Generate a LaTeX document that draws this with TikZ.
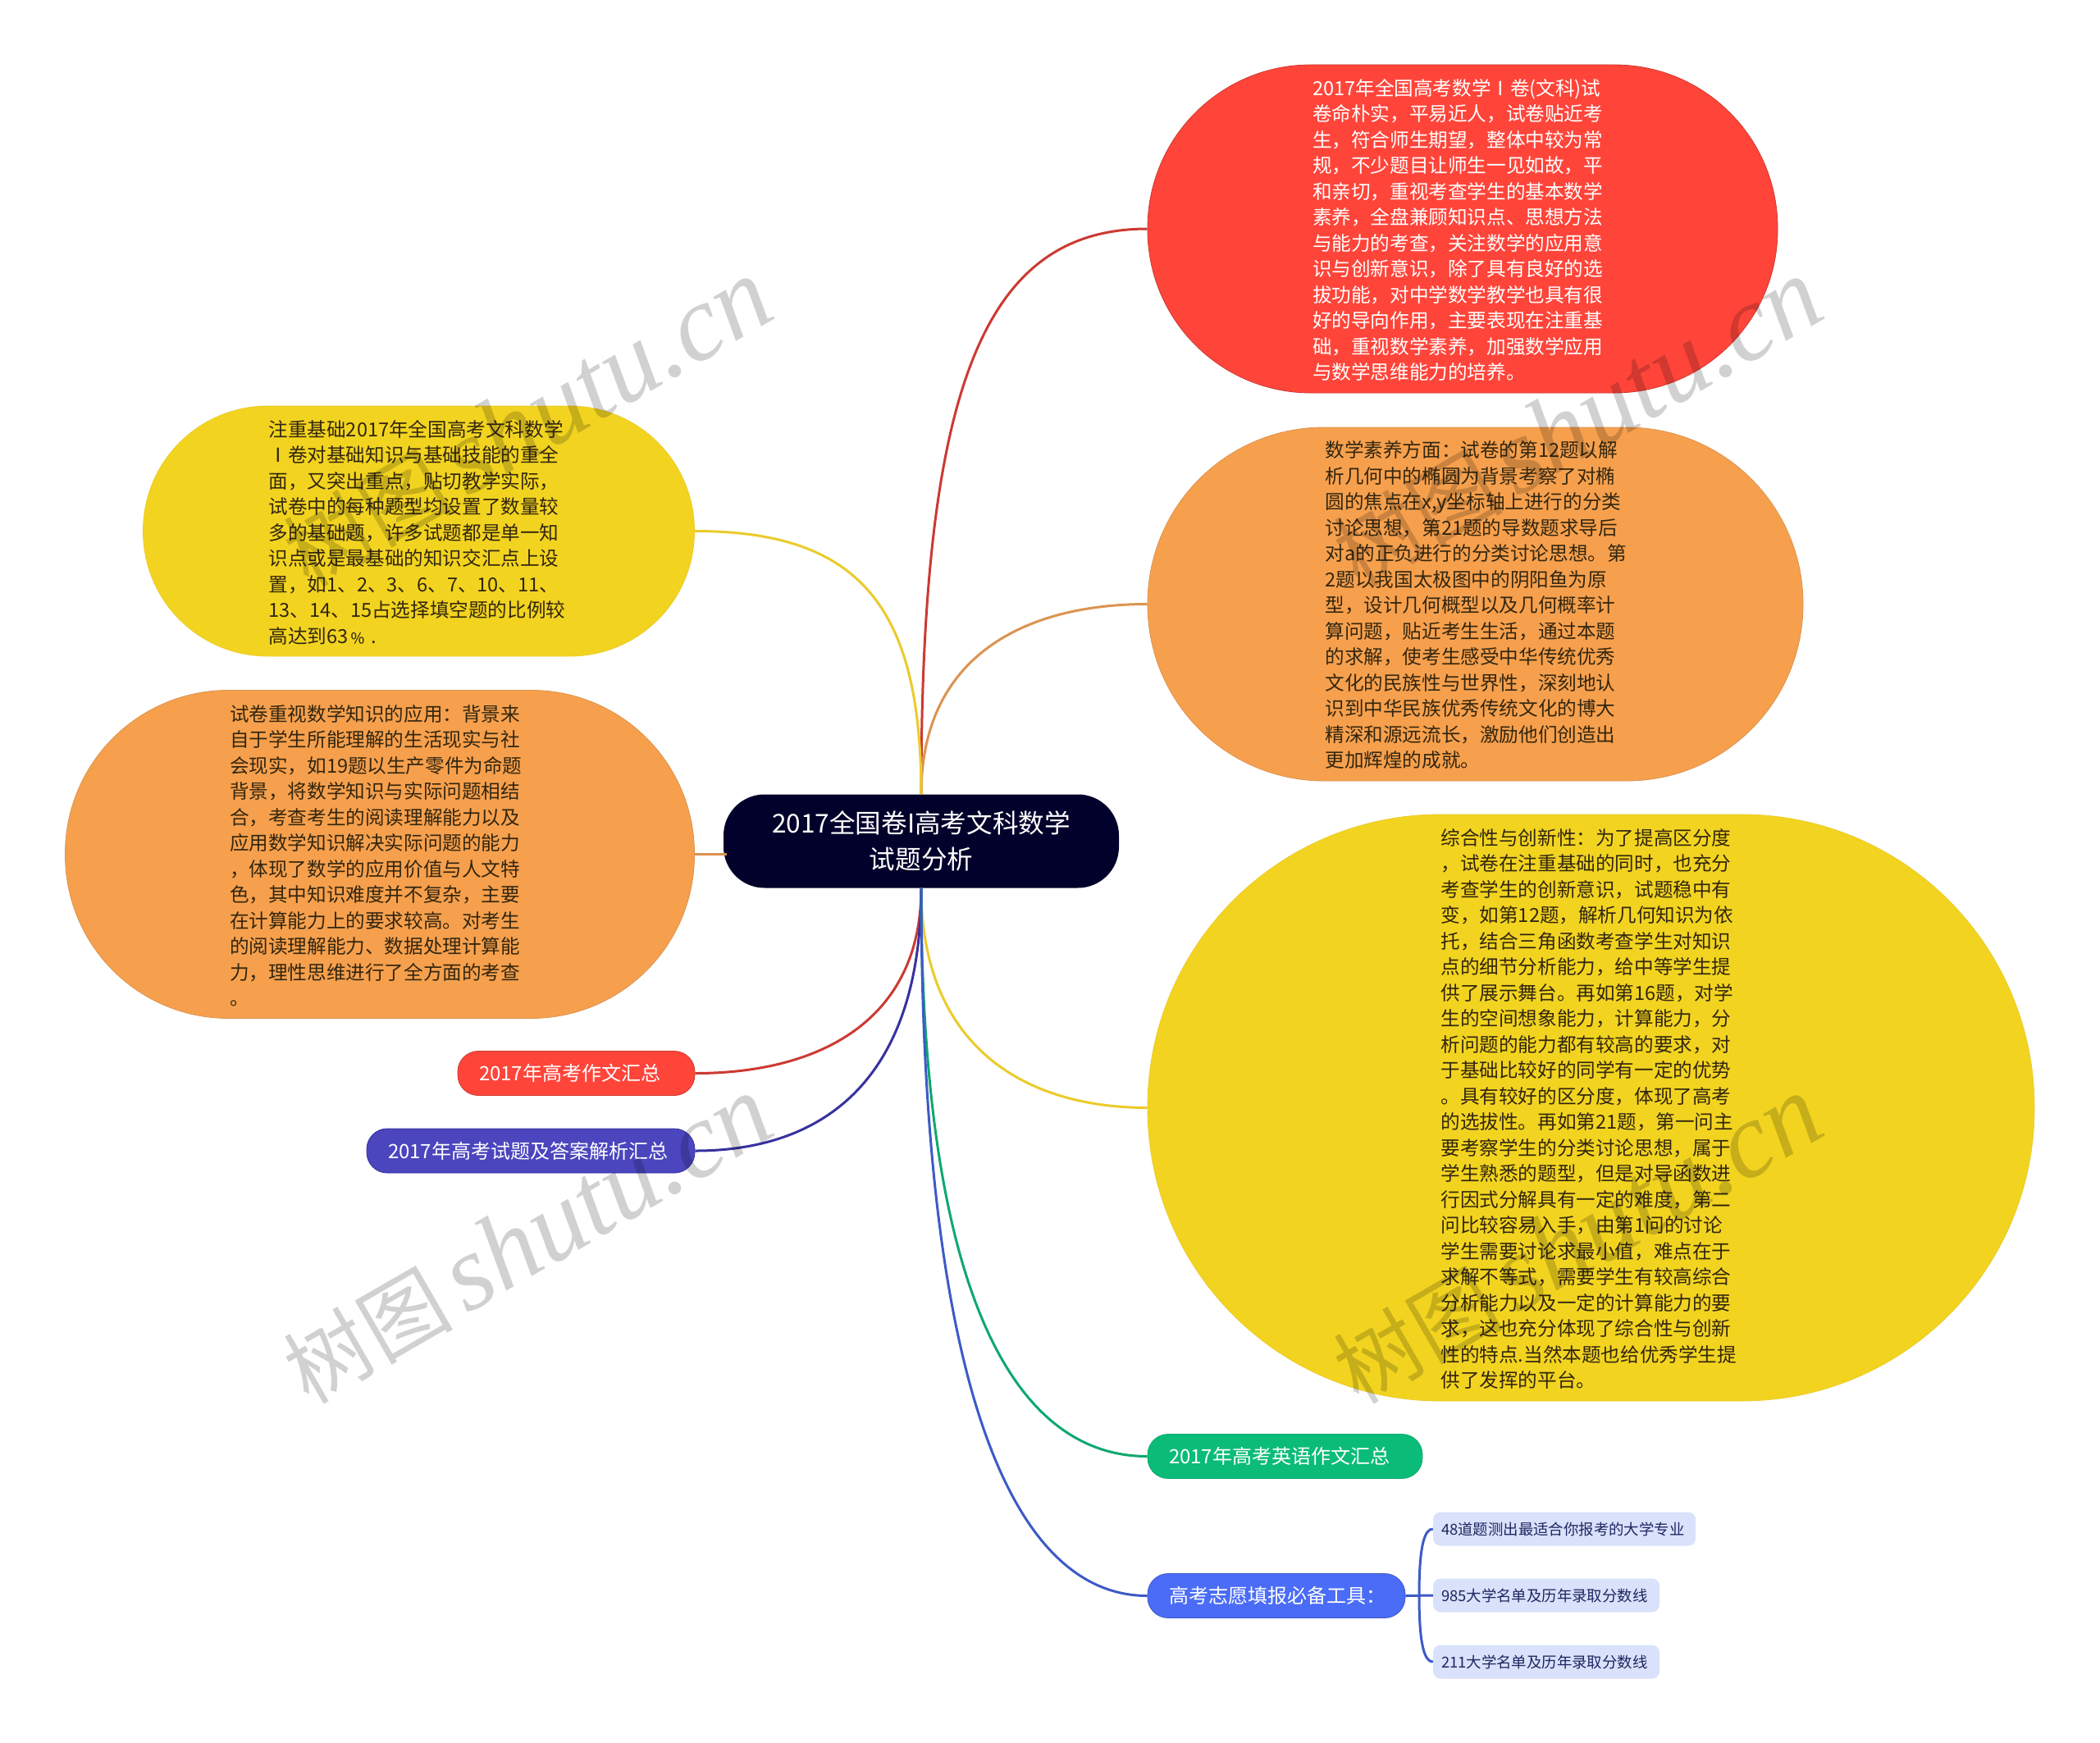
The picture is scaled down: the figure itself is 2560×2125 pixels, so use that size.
\documentclass[tikz,border=0pt]{standalone}
\usepackage{fontspec}
\setmainfont{Noto Sans CJK SC}
\newfontfamily\wmlat[ItalicFont=Liberation Serif Italic]{Liberation Serif}
\usetikzlibrary{calc}
\definecolor{cNavy}{HTML}{01012B}
\definecolor{cRed}{HTML}{FF453A}
\definecolor{cRedL}{HTML}{CC3A32}
\definecolor{cOra}{HTML}{F6A04D}
\definecolor{cOraL}{HTML}{DC9350}
\definecolor{cYel}{HTML}{F2D420}
\definecolor{cYelL}{HTML}{EBCB2B}
\definecolor{cInd}{HTML}{4B45BE}
\definecolor{cIndL}{HTML}{37329F}
\definecolor{cGre}{HTML}{0ABC78}
\definecolor{cGreL}{HTML}{0EA86E}
\definecolor{cBlu}{HTML}{4A6CF7}
\definecolor{cBluL}{HTML}{3D5AC6}
\definecolor{cLeaf}{HTML}{DAE1FB}
\definecolor{cLeafT}{HTML}{1D2760}
\definecolor{cDark}{HTML}{33260F}
\tikzset{
  x=1pt,y=-1pt,
  topic/.style={rectangle,inner sep=0pt,line width=0.8pt,align=left,text width=366pt,
    font=\fontsize{23.6}{31.5}\selectfont},
  small/.style={rectangle,inner sep=0pt,line width=0.8pt,align=left,rounded corners=25pt,
    minimum height=54pt,text=white,font=\fontsize{24}{30}\selectfont},
  leaf/.style={rectangle,inner sep=0pt,align=left,rounded corners=9pt,fill=cLeaf,
    minimum height=41pt,text=cLeafT,font=\fontsize{18.4}{24}\selectfont},
  conn/.style={line width=3pt},
  wmk/.style={inner sep=0pt,rotate=30,text=black,text opacity=0.18,
    font=\fontsize{103}{130}\selectfont},
}
\newcommand{\wmtext}{树图\hspace{16pt}{\fontsize{131}{130}\wmlat\itshape shutu.cn}}
\newcommand{\tp}{\rule{0pt}{23pt}}
\begin{document}
\begin{tikzpicture}
\useasboundingbox (0,0) rectangle (2560,2125);
\fill[white] (0,0) rectangle (2560,2125);

\node[rectangle,rounded corners=50pt,inner sep=0pt,fill=cNavy,text=white,align=center,
  minimum width=482pt,minimum height=114pt,
  font=\fontsize{31.6}{44}\selectfont] (c) at (1123,1025.5) {2017全国卷I高考文科数学\\试题分析};

\node[topic,fill=cRed,draw=cRedL,text=white,rounded corners=199pt,minimum width=768pt,minimum height=400pt] (r1) at (1783,279) {\tp 2017年全国高考数学Ⅰ卷(文科)试\\
卷命朴实，平易近人，试卷贴近考\\
生，符合师生期望，整体中较为常\\
规，不少题目让师生一见如故，平\\
和亲切，重视考查学生的基本数学\\
素养，全盘兼顾知识点、思想方法\\
与能力的考查，关注数学的应用意\\
识与创新意识，除了具有良好的选\\
拔功能，对中学数学教学也具有很\\
好的导向作用，主要表现在注重基\\
础，重视数学素养，加强数学应用\\
与数学思维能力的培养。};

\node[topic,fill=cOra,draw=cOraL,text=cDark,rounded corners=215pt,minimum width=799pt,minimum height=431pt] (r2) at (1798.5,736.5) {\tp 数学素养方面：试卷的第12题以解\\
析几何中的椭圆为背景考察了对椭\\
圆的焦点在x,y坐标轴上进行的分类\\
讨论思想，第21题的导数题求导后\\
对a的正负进行的分类讨论思想。第\\
2题以我国太极图中的阴阳鱼为原\\
型，设计几何概型以及几何概率计\\
算问题，贴近考生生活，通过本题\\
的求解，使考生感受中华传统优秀\\
文化的民族性与世界性，深刻地认\\
识到中华民族优秀传统文化的博大\\
精深和源远流长，激励他们创造出\\
更加辉煌的成就。};

\node[topic,fill=cYel,draw=cYelL,text=cDark,rounded corners=357pt,minimum width=1081pt,minimum height=715pt] (r3) at (1939.5,1350.5) {\tp 综合性与创新性：为了提高区分度\\
，试卷在注重基础的同时，也充分\\
考查学生的创新意识，试题稳中有\\
变，如第12题，解析几何知识为依\\
托，结合三角函数考查学生对知识\\
点的细节分析能力，给中等学生提\\
供了展示舞台。再如第16题，对学\\
生的空间想象能力，计算能力，分\\
析问题的能力都有较高的要求，对\\
于基础比较好的同学有一定的优势\\
。具有较好的区分度，体现了高考\\
的选拔性。再如第21题，第一问主\\
要考察学生的分类讨论思想，属于\\
学生熟悉的题型，但是对导函数进\\
行因式分解具有一定的难度，第二\\
问比较容易入手，由第1问的讨论\\
学生需要讨论求最小值，难点在于\\
求解不等式，需要学生有较高综合\\
分析能力以及一定的计算能力的要\\
求，这也充分体现了综合性与创新\\
性的特点.当然本题也给优秀学生提\\
供了发挥的平台。};

\node[topic,fill=cYel,draw=cYelL,text=cDark,rounded corners=152pt,minimum width=672pt,minimum height=305pt] (l1) at (510.5,647.5) {\tp 注重基础2017年全国高考文科数学\\
Ⅰ卷对基础知识与基础技能的重全\\
面，又突出重点，贴切教学实际，\\
试卷中的每种题型均设置了数量较\\
多的基础题，许多试题都是单一知\\
识点或是最基础的知识交汇点上设\\
置，如1、2、3、6、7、10、11、\\
13、14、15占选择填空题的比例较\\
高达到63﹪\hspace{4pt}.};

\node[topic,fill=cOra,draw=cOraL,text=cDark,rounded corners=199pt,minimum width=767pt,minimum height=400pt] (l2) at (463,1041.5) {\tp 试卷重视数学知识的应用：背景来\\
自于学生所能理解的生活现实与社\\
会现实，如19题以生产零件为命题\\
背景，将数学知识与实际问题相结\\
合，考查考生的阅读理解能力以及\\
应用数学知识解决实际问题的能力\\
，体现了数学的应用价值与人文特\\
色，其中知识难度并不复杂，主要\\
在计算能力上的要求较高。对考生\\
的阅读理解能力、数据处理计算能\\
力，理性思维进行了全方面的考查\\
。};

\node[small,fill=cRed,draw=cRedL,minimum width=289pt,text width=237pt] (l3) at (702.5,1308.5) {2017年高考作文汇总};
\node[small,fill=cInd,draw=cIndL,minimum width=400pt,text width=348pt] (l4) at (647,1403) {2017年高考试题及答案解析汇总};
\node[small,fill=cGre,draw=cGreL,minimum width=335pt,text width=283pt] (r4) at (1566.5,1775.5) {2017年高考英语作文汇总};
\node[small,fill=cBlu,draw=cBluL,minimum width=314pt,text width=262pt] (r5) at (1556,1945.5) {高考志愿填报必备工具：};

\node[leaf,minimum width=320pt,text width=300pt] (k1) at (1907,1864) {48道题测出最适合你报考的大学专业};
\node[leaf,minimum width=276pt,text width=256pt] (k2) at (1885,1945) {985大学名单及历年录取分数线};
\node[leaf,minimum width=276pt,text width=256pt] (k3) at (1885,2026) {211大学名单及历年录取分数线};

\coordinate (bm) at (1730,1945);

\draw[conn,cRedL] (c.north) to[out=90,in=180,out distance=497pt,in distance=199pt] (r1.west);
\draw[conn,cOraL] (c.north) to[out=90,in=180,out distance=168pt,in distance=150pt] (r2.west);
\draw[conn,cYelL] (c.north) to[out=90,in=0,out distance=231pt,in distance=199pt] (l1.east);
\draw[conn,cOraL,shorten >=-4pt] (l2.east) -- (l2.east -| c.west);
\draw[conn,cYelL] (c.south) to[out=-90,in=180,out distance=193pt,in distance=150pt] (r3.west);
\draw[conn,cRedL] (c.south) to[out=-90,in=0,out distance=163pt,in distance=150pt] (l3.east);
\draw[conn,cIndL] (c.south) to[out=-90,in=0,out distance=230pt,in distance=160pt] (l4.east);
\draw[conn,cGreL] (c.south) to[out=-90,in=180,out distance=499pt,in distance=160pt] (r4.west);
\draw[conn,cBluL] (c.south) to[out=-90,in=180,out distance=621pt,in distance=160pt] (r5.west);
\draw[conn,cBluL] (r5.east) -- (k2.west);
\draw[conn,cBluL] (bm) to[out=90,in=180,out distance=62pt,in distance=10pt] (k1.west);
\draw[conn,cBluL] (bm) to[out=-90,in=180,out distance=62pt,in distance=10pt] (k3.west);

\node[wmk] (w1) at (643,1512) {\wmtext};
\node[wmk] (w2) at (1923,1512) {\wmtext};
\node[wmk] (w3) at (643,516) {\wmtext};
\node[wmk] (w4) at (1923,516) {\wmtext};
\end{tikzpicture}
\end{document}
